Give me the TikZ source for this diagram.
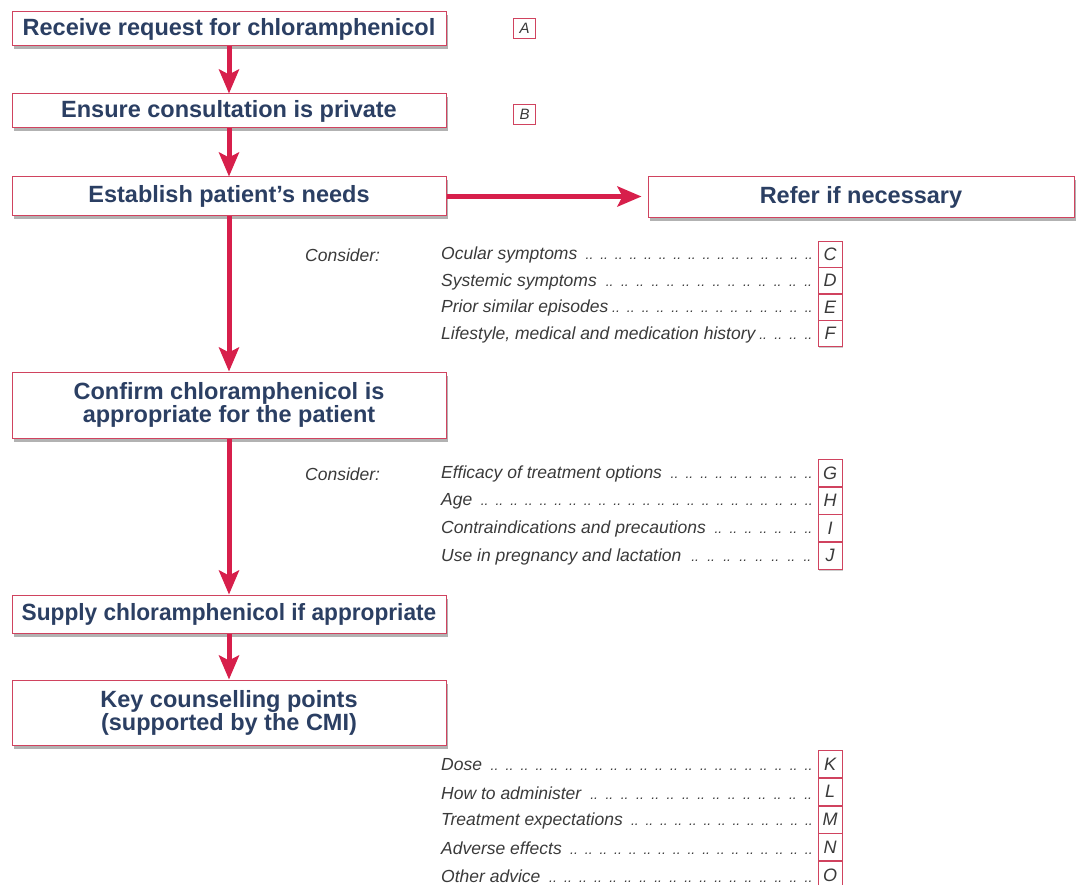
\documentclass[tikz,border=0pt]{standalone}
\usepackage{fontspec}
\setmainfont{Liberation Sans}
\usetikzlibrary{arrows.meta,shadows}
\definecolor{navy}{HTML}{2B3F63}
\definecolor{arrowred}{HTML}{D71F4B}
\definecolor{boxred}{HTML}{D0435F}
\definecolor{itemgrey}{HTML}{3A3A3A}
\newcommand\myleader{\xleaders\hbox to 14.5pt{\hss\fontsize{14}{14}\selectfont..\hss}\hfill\kern1pt}
\tikzset{
  stepbox/.style={draw=boxred, line width=1pt, fill=white, text=navy,
    font=\fontsize{23.5}{23}\selectfont\bfseries, minimum width=434pt,
    inner sep=0pt, align=center,
    drop shadow={shadow xshift=1.5pt, shadow yshift=-3.5pt, fill=black, opacity=0.3}},
  flow/.style={draw=arrowred, line width=5pt, -{Stealth[length=24pt,width=20pt,inset=5pt]}},
  consider/.style={anchor=west, inner sep=0pt, text=itemgrey, font=\fontsize{17.5}{20}\selectfont\itshape},
  item/.style={anchor=west, inner sep=0pt, text=itemgrey, font=\fontsize{17.5}{20}\selectfont\itshape},
  lbox/.style={draw=boxred, line width=0.8pt, fill=white, minimum width=24pt, inner sep=0pt,
    text=itemgrey, font=\fontsize{18}{18}\selectfont\itshape,
    drop shadow={shadow xshift=1pt, shadow yshift=-1.5pt, fill=black, opacity=0.2}},
  smallbox/.style={draw=boxred, line width=0.8pt, fill=white, minimum width=22pt, minimum height=20pt,
    inner sep=0pt, text=itemgrey, font=\fontsize{15}{15}\selectfont\itshape},
}
\begin{document}
\begin{tikzpicture}[x=1pt,y=-1pt]
\useasboundingbox (0,0) rectangle (1076,885);

% main steps
\node[stepbox, minimum height=34pt] (b1) at (229,29) {Receive request for chloramphenicol};
\node[stepbox, minimum height=34pt] (b2) at (229,111) {Ensure consultation is private};
\node[stepbox, minimum height=39pt] (b3) at (229,196.5) {Establish patient’s needs};
\node[stepbox, minimum width=426pt, minimum height=41pt] (ref) at (861,197.5) {Refer if necessary};
\node[stepbox, minimum height=66pt] (b5) at (229,405) {Confirm chloramphenicol is\\appropriate for the patient};
\node[stepbox, minimum height=38pt] (b6) at (229,614) {\scalebox{0.965}[1]{Supply chloramphenicol if appropriate}};
\node[stepbox, minimum height=65pt] (b7) at (229,712.5) {Key counselling points\\(supported by the CMI)};

% small letter boxes
\node[smallbox] (la) at (524.5,28) {A};
\node[smallbox] (lb) at (524.5,114) {B};

% connectors
\draw[flow] (b1.south) -- (b2.north);
\draw[flow] (b2.south) -- (b3.north);
\draw[flow] (b3.south) -- (b5.north);
\draw[flow] (b5.south) -- (b6.north);
\draw[flow] (b6.south) -- (b7.north);
\draw[flow, shorten >=6pt] (b3.east) -- (b3.east -| ref.west);

% group 1
\node[consider] (c1) at (305,255) {Consider:};
\node[item] (i1) at (441,255) {\makebox[376pt][l]{Ocular symptoms\ \myleader}};
\node[item] (i2) at (441,281.5) {\makebox[376pt][l]{Systemic symptoms\ \myleader}};
\node[item] (i3) at (441,308) {\makebox[376pt][l]{Prior similar episodes\myleader}};
\node[item] (i4) at (441,334.5) {\makebox[376pt][l]{Lifestyle, medical and medication history\myleader}};
\node[lbox, minimum height=26pt] (lc) at (830,254) {C};
\node[lbox, minimum height=26pt] (ld) at (830,280.5) {D};
\node[lbox, minimum height=26pt] (le) at (830,307) {E};
\node[lbox, minimum height=26pt] (lf) at (830,333.5) {F};

% group 2
\node[consider] (c2) at (305,474) {Consider:};
\node[item] (i5) at (441,474) {\makebox[376pt][l]{Efficacy of treatment options\ \myleader}};
\node[item] (i6) at (441,501.5) {\makebox[376pt][l]{Age\ \myleader}};
\node[item] (i7) at (441,529) {\makebox[376pt][l]{Contraindications and precautions\ \myleader}};
\node[item] (i8) at (441,556.5) {\makebox[376pt][l]{Use in pregnancy and lactation\ \myleader}};
\node[lbox, minimum height=27pt] (lg) at (830,473) {G};
\node[lbox, minimum height=27pt] (lh) at (830,500.5) {H};
\node[lbox, minimum height=27pt] (li) at (830,528) {I};
\node[lbox, minimum height=27pt] (lj) at (830,555.5) {J};

% group 3
\node[item] (i9) at (441,765) {\makebox[376pt][l]{Dose\ \myleader}};
\node[item] (i10) at (441,792.75) {\makebox[376pt][l]{How to administer\ \myleader}};
\node[item] (i11) at (441,820.5) {\makebox[376pt][l]{Treatment expectations\ \myleader}};
\node[item] (i12) at (441,848.25) {\makebox[376pt][l]{Adverse effects\ \myleader}};
\node[item] (i13) at (441,876) {\makebox[376pt][l]{Other advice\ \myleader}};
\node[lbox, minimum height=27pt] (lk) at (830,764) {K};
\node[lbox, minimum height=27pt] (ll) at (830,791.75) {L};
\node[lbox, minimum height=27pt] (lm) at (830,819.5) {M};
\node[lbox, minimum height=27pt] (ln) at (830,847.25) {N};
\node[lbox, minimum height=27pt] (lo) at (830,875) {O};
\end{tikzpicture}
\end{document}
